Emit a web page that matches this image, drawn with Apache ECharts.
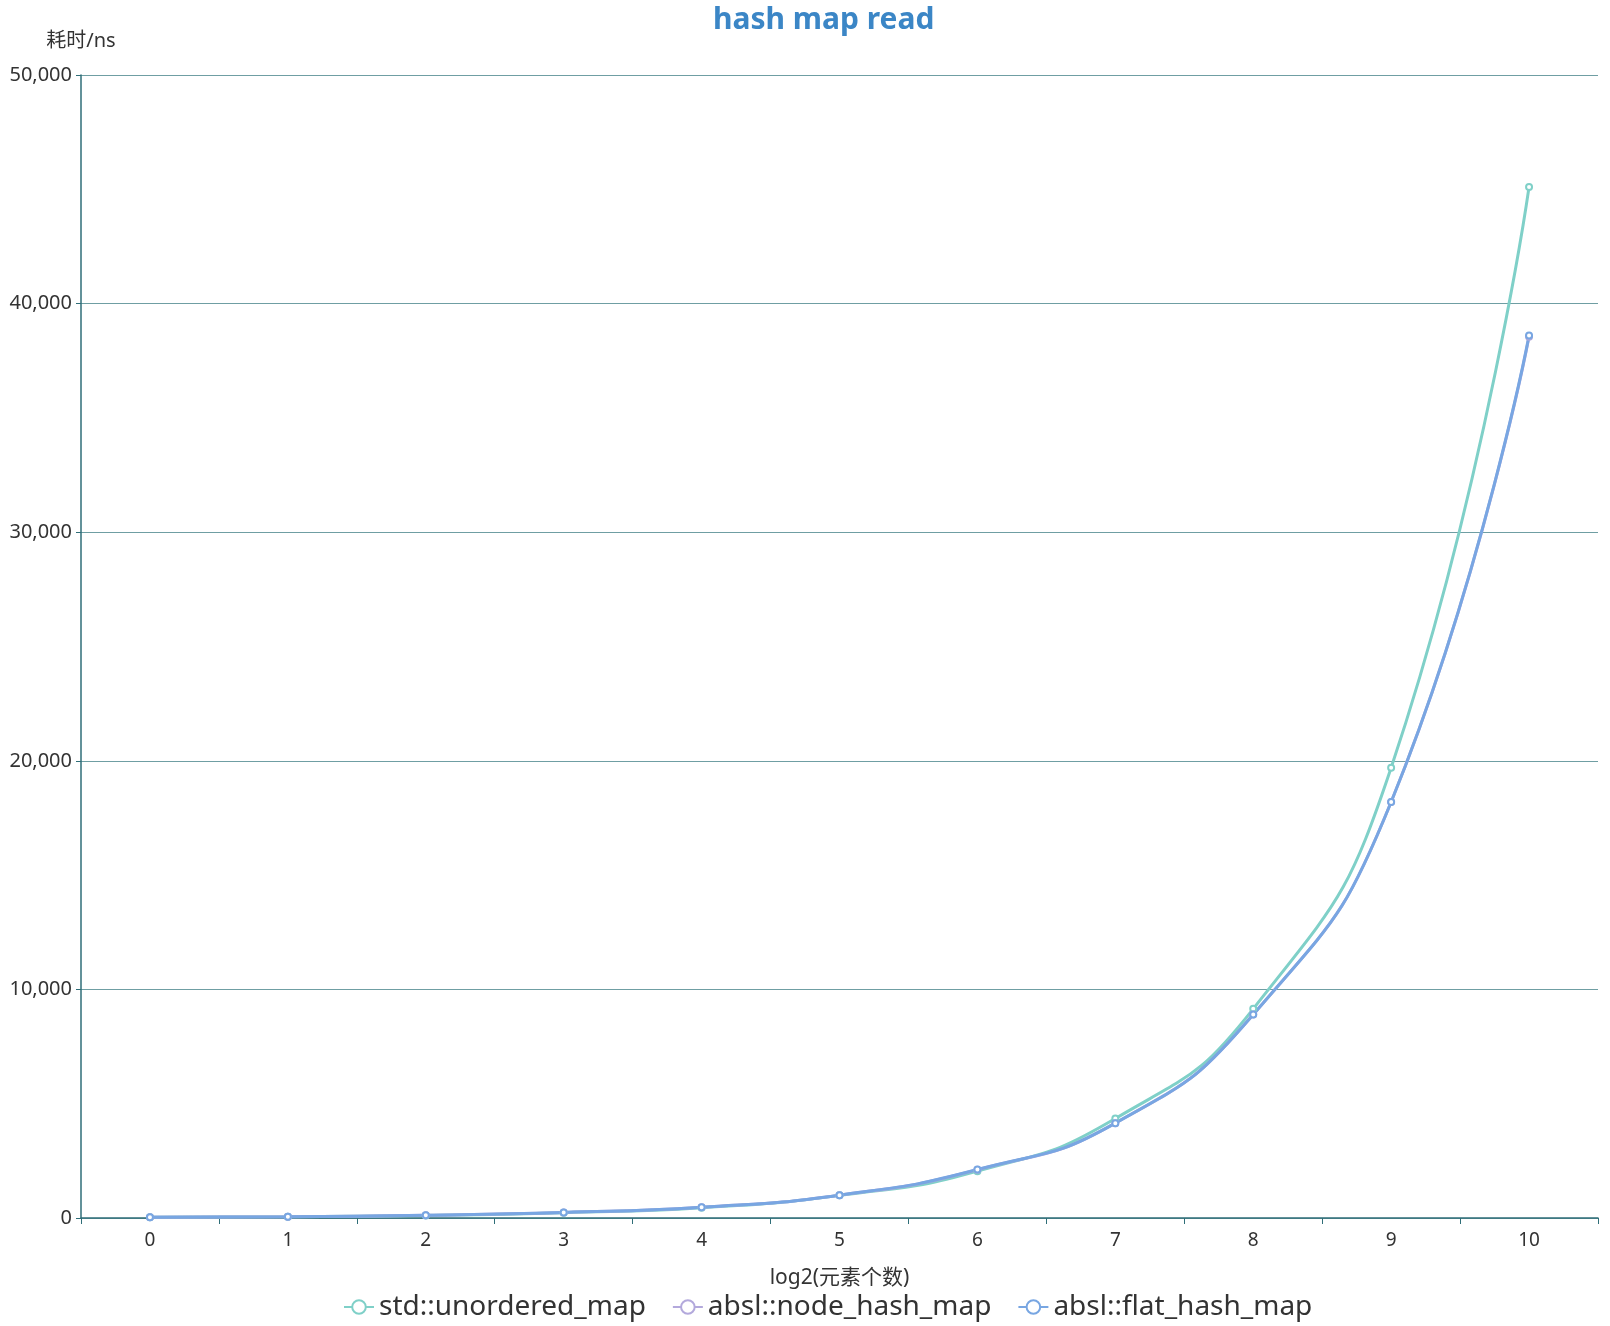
<!DOCTYPE html>
<html>
<head>
<meta charset="utf-8">
<script src="https://cdn.jsdelivr.net/npm/echarts@6/dist/echarts.min.js"></script>
<style>
  html, body { margin: 0; padding: 0; background: #fff; }
  #main { width: 1610px; height: 1326px; }
</style>
</head>
<body>
<div id="main"></div>
<script>
  // x轴：log2(元素个数)
  var categories = ['0', '1', '2', '3', '4', '5', '6', '7', '8', '9', '10'];
  var seriesNames = ['std::unordered_map', 'absl::node_hash_map', 'absl::flat_hash_map'];

  // 耗时/ns
  var stdData  = [30, 60, 110, 230, 450, 990, 2050, 4350, 9150, 19700, 45100];
  var nodeData = [30, 60, 120, 240, 470, 1000, 2110, 4150, 8900, 18200, 38550];
  var flatData = [30, 60, 120, 240, 470, 1000, 2120, 4150, 8900, 18200, 38600];

  var colors = ['#7fd0c8', '#b3a9dc', '#78a6e2'];
  var axisColor = '#2f6e78';
  var font = '"Noto Sans", "Noto Sans CJK SC", sans-serif';

  var chart = echarts.init(document.getElementById('main'));

  var makeSeries = function (name, data, idx) {
    return {
      name: name,
      type: 'line',
      smooth: true,
      data: data,
      symbol: 'emptyCircle',
      symbolSize: 6,
      lineStyle: { width: 3, color: colors[idx] },
      itemStyle: { color: colors[idx] }
    };
  };

  var option = {
    color: colors,
    textStyle: { fontFamily: font },
    title: {
      text: 'hash map read',
      left: 708,
      top: 0,
      textStyle: { color: '#3b86c6', fontSize: 30, fontWeight: 'bold', fontFamily: font }
    },
    legend: {
      bottom: 0,
      left: 338,
      itemWidth: 30,
      itemHeight: 17,
      itemGap: 26,
      textStyle: { fontSize: 28, color: '#333', fontFamily: font },
      data: seriesNames
    },
    grid: { left: 81, right: 12, top: 75, bottom: 108 },
    xAxis: {
      type: 'category',
      data: categories,
      boundaryGap: true,
      name: 'log2(元素个数)',
      nameLocation: 'middle',
      nameGap: 50,
      nameTextStyle: { fontSize: 21, color: '#333' },
      axisLine: { lineStyle: { color: axisColor, width: 1.5 } },
      axisTick: { show: true, length: 6, lineStyle: { color: axisColor } },
      axisLabel: { fontSize: 19, color: '#333', margin: 13 }
    },
    yAxis: {
      type: 'value',
      min: 0,
      max: 50000,
      interval: 10000,
      name: '耗时/ns',
      nameLocation: 'end',
      nameGap: 24,
      nameTextStyle: { fontSize: 20, color: '#333', align: 'center' },
      axisLine: { show: true, lineStyle: { color: axisColor, width: 1.5 } },
      axisTick: { show: true, length: 5, lineStyle: { color: axisColor } },
      axisLabel: {
        fontSize: 20,
        color: '#333',
        margin: 9,
        formatter: function (v) { return v.toLocaleString('en-US'); }
      },
      splitLine: { lineStyle: { color: '#6f9ea3', width: 1.2 } }
    },
    series: [
      makeSeries(seriesNames[0], stdData, 0),
      makeSeries(seriesNames[1], nodeData, 1),
      makeSeries(seriesNames[2], flatData, 2)
    ]
  };

  chart.setOption(option);
</script>
</body>
</html>
